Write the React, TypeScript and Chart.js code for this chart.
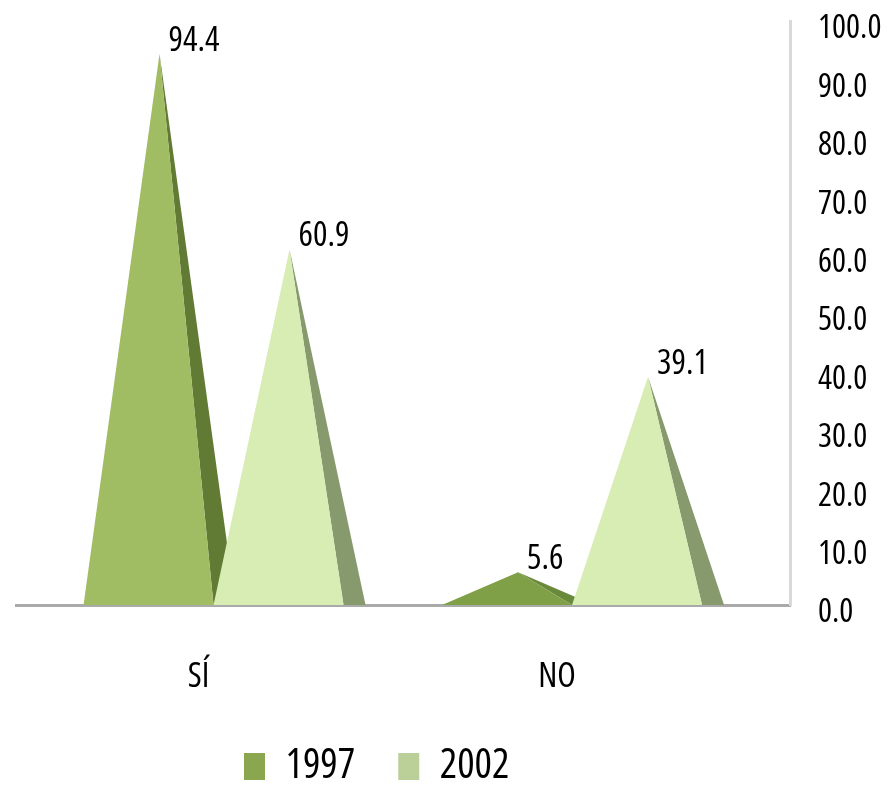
import React, { useEffect, useRef } from 'react';
import { Chart, registerables } from 'chart.js';

Chart.register(...registerables);

// ---- data ----
const categories = ['SÍ', 'NO'];
const seriesNames = ['1997', '2002'];
const values1997 = [94.4, 5.6];
const values2002 = [60.9, 39.1];
const yTickValues = [0, 10, 20, 30, 40, 50, 60, 70, 80, 90, 100];

// ---- styles ----
const FONT = "'Open Sans', sans-serif";
const legendColors = ['#8aa64e', '#bbd098'];
const frontColors = [
  ['#a0bd63', '#80a048'],
  ['#d8edb3', '#d8edb3'],
];
const sideColors = [
  ['#617b35', '#6a8a3b'],
  ['#879a6e', '#879a6e'],
];
const DEPTH = 22;
const W = 891;
const H = 788;

// make every font set on this context use the condensed width of Open Sans
function condense(ctx: CanvasRenderingContext2D) {
  const desc = Object.getOwnPropertyDescriptor(CanvasRenderingContext2D.prototype, 'font');
  if (!desc || !desc.set || !desc.get) return;
  Object.defineProperty(ctx, 'font', {
    configurable: true,
    get() {
      return desc.get!.call(this);
    },
    set(v: string) {
      desc.set!.call(this, v);
      (this as any).fontStretch = 'condensed';
    },
  });
  (ctx as any).fontStretch = 'condensed';
}

const pyramidPlugin = {
  id: 'pyramids',
  beforeDatasetDraw() {
    return false;
  },
  afterDatasetsDraw(chart: any) {
    const ctx = chart.ctx;
    ctx.save();
    chart.data.datasets.forEach((ds: any, di: number) => {
      const meta = chart.getDatasetMeta(di);
      meta.data.forEach((bar: any, j: number) => {
        const { x, y, base, width } = bar.getProps(['x', 'y', 'base', 'width'], true);
        const l = x - width / 2;
        const r = x + width / 2;
        const ax = x + DEPTH / 2;
        ctx.beginPath();
        ctx.moveTo(r, base);
        ctx.lineTo(r + DEPTH, base);
        ctx.lineTo(ax, y);
        ctx.closePath();
        ctx.fillStyle = sideColors[di][j];
        ctx.fill();
        ctx.beginPath();
        ctx.moveTo(l, base);
        ctx.lineTo(r, base);
        ctx.lineTo(ax, y);
        ctx.closePath();
        ctx.fillStyle = frontColors[di][j];
        ctx.fill();
      });
    });
    ctx.font = `34px ${FONT}`;
    ctx.fillStyle = '#000';
    ctx.textAlign = 'left';
    ctx.textBaseline = 'alphabetic';
    chart.data.datasets.forEach((ds: any, di: number) => {
      const meta = chart.getDatasetMeta(di);
      meta.data.forEach((bar: any, j: number) => {
        const { x, y } = bar.getProps(['x', 'y'], true);
        const v = ds.data[j].y;
        ctx.fillText(Number(v).toFixed(1), x + DEPTH / 2 + 9, y - 3);
      });
    });
    ctx.restore();
  },
};

const legendPlacer = {
  id: 'legendPlacer',
  afterLayout(chart: any) {
    const L = chart.legend;
    if (!L) return;
    const pad = L.options.labels.padding;
    const w = L.right - L.left;
    const h = L.bottom - L.top;
    L.left = 244 - pad;
    L.right = L.left + w;
    L.top = 746 - pad;
    L.bottom = L.top + h;
  },
};

export default function App() {
  const ref = useRef<HTMLCanvasElement | null>(null);

  useEffect(() => {
    if (!ref.current) return;
    const ctx = ref.current.getContext('2d');
    if (ctx) condense(ctx);
    const chart = new Chart(ref.current, {
      type: 'bar',
      data: {
        datasets: [
          {
            label: seriesNames[0],
            data: values1997.map((v, i) => ({ x: i, y: v })),
            backgroundColor: legendColors[0],
            borderWidth: 0,
          },
          {
            label: seriesNames[1],
            data: values2002.map((v, i) => ({ x: i, y: v })),
            backgroundColor: legendColors[1],
            borderWidth: 0,
          },
        ],
      },
      options: {
        animation: false,
        responsive: false,
        events: [],
        layout: { padding: { left: 16, top: 21, right: 0, bottom: 0 } },
        datasets: { bar: { barThickness: 130, grouped: true } },
        scales: {
          x: {
            type: 'linear',
            bounds: 'data',
            offset: false,
            min: -0.551,
            max: 1.608,
            grid: { display: false, drawTicks: false, offset: false },
            border: { display: true, color: '#aaaaaa', width: 3 },
            afterBuildTicks: (s: any) => {
              s.ticks = categories.map((_, i) => ({ value: i }));
            },
            afterFit: (s: any) => {
              const lh = s.chart.legend ? s.chart.legend.height : 0;
              s.height = 183 - lh;
              s.paddingLeft = 0;
              s.paddingRight = 0;
            },
            ticks: {
              callback: (v: any) => categories[v] ?? '',
              font: { family: FONT, size: 34 },
              color: '#000',
              padding: 52,
              labelOffset: -15,
              maxRotation: 0,
              autoSkip: false,
            },
          },
          y: {
            position: 'right',
            min: 0,
            max: 100,
            grid: { display: false, drawTicks: false },
            border: { display: true, color: '#d9d9d9', width: 3 },
            afterBuildTicks: (s: any) => {
              s.ticks = yTickValues.map((v) => ({ value: v }));
            },
            afterFit: (s: any) => {
              s.width = W - 790;
              s.paddingTop = 0;
              s.paddingBottom = 0;
            },
            ticks: {
              callback: (v: any) => Number(v).toFixed(1),
              font: { family: FONT, size: 33 },
              color: '#000',
              padding: 28,
              labelOffset: 8,
            },
          },
        },
        plugins: {
          tooltip: { enabled: false },
          legend: {
            position: 'bottom',
            align: 'start',
            labels: {
              boxWidth: 21,
              boxHeight: 27,
              padding: 43,
              color: '#000',
              font: { family: FONT, size: 41 },
            },
          },
        },
      },
      plugins: [pyramidPlugin, legendPlacer],
    } as any);
    return () => chart.destroy();
  }, []);

  return (
    <div style={{ position: 'absolute', left: 0, top: 0, width: W, height: H, background: '#fff' }}>
      <canvas ref={ref} width={W} height={H} />
    </div>
  );
}
